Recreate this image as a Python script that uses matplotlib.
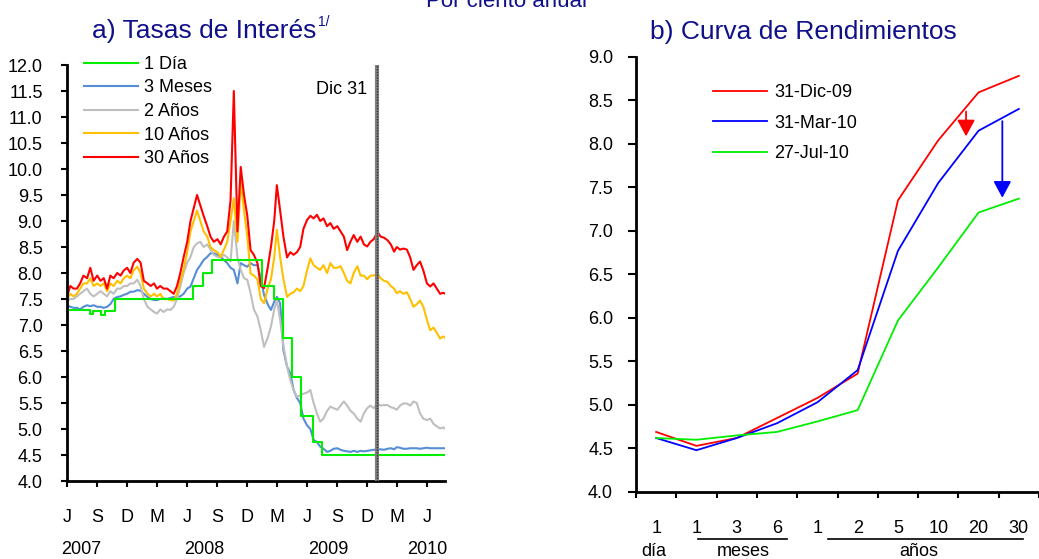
import pandas as pd
import matplotlib
matplotlib.use("Agg")
import matplotlib.pyplot as plt
from matplotlib.lines import Line2D

plt.rcParams["font.family"] = ["Liberation Sans", "DejaVu Sans"]

# ---- a) Tasas de interés: fechas cada 10 días (1, 11, 21 de cada mes) ----
meses = pd.date_range("2007-06-01", "2010-07-01", freq="MS")
fechas = [m + pd.Timedelta(days=d) for m in meses for d in (0, 10, 20)]
fechas.append(pd.Timestamp("2010-07-27"))

tasa_30a = [
    7.55, 7.75, 7.70, 7.70, 7.80, 7.95, 7.90, 8.10, 7.85, 7.95, 7.85, 7.90,
    7.70, 7.95, 7.90, 8.00, 7.95, 8.05, 8.10, 8.00, 8.20, 8.27, 8.20, 7.85,
    7.80, 7.75, 7.80, 7.70, 7.75, 7.70, 7.70, 7.65, 7.60, 7.75, 8.00, 8.30,
    8.60, 9.00, 9.25, 9.50, 9.30, 9.10, 8.90, 8.70, 8.60, 8.65, 8.55, 8.70,
    8.80, 9.40, 11.50, 8.80, 10.04, 9.50, 9.10, 8.44, 8.35, 8.19, 7.75, 7.71,
    8.10, 8.50, 9.00, 9.69, 9.20, 8.70, 8.30, 8.40, 8.35, 8.40, 8.50, 8.85,
    9.02, 9.10, 9.05, 9.12, 9.00, 9.05, 8.90, 8.96, 8.85, 8.90, 8.80, 8.70,
    8.44, 8.60, 8.73, 8.60, 8.70, 8.55, 8.51, 8.60, 8.65, 8.79, 8.70, 8.68,
    8.63, 8.55, 8.41, 8.50, 8.45, 8.47, 8.45, 8.30, 8.06, 8.15, 8.22, 8.05,
    7.80, 7.74, 7.80, 7.70, 7.60, 7.62, 7.60,
]
tasa_10a = [
    7.50, 7.60, 7.55, 7.60, 7.70, 7.80, 7.80, 7.90, 7.75, 7.80, 7.75, 7.80,
    7.65, 7.80, 7.75, 7.85, 7.80, 7.90, 7.95, 7.90, 8.05, 8.12, 8.00, 7.70,
    7.60, 7.55, 7.60, 7.55, 7.60, 7.50, 7.50, 7.48, 7.47, 7.60, 7.85, 8.06,
    8.40, 8.80, 9.00, 9.20, 9.00, 8.80, 8.70, 8.50, 8.44, 8.40, 8.31, 8.45,
    8.60, 9.00, 9.44, 8.60, 9.76, 9.20, 8.70, 7.99, 7.95, 7.88, 7.50, 7.42,
    7.70, 7.88, 8.30, 8.83, 8.30, 7.88, 7.54, 7.60, 7.63, 7.70, 7.65, 7.75,
    8.05, 8.28, 8.15, 8.10, 8.06, 8.15, 8.00, 8.19, 8.10, 8.10, 8.13, 8.00,
    7.85, 7.80, 8.00, 8.13, 7.95, 7.95, 7.88, 7.95, 7.95, 7.99, 7.90, 7.85,
    7.83, 7.75, 7.70, 7.61, 7.65, 7.60, 7.63, 7.50, 7.35, 7.40, 7.47, 7.35,
    7.10, 6.90, 6.95, 6.85, 6.74, 6.78, 6.75,
]
tasa_2a = [
    7.45, 7.50, 7.50, 7.55, 7.60, 7.65, 7.70, 7.60, 7.55, 7.60, 7.65, 7.60,
    7.55, 7.65, 7.60, 7.70, 7.70, 7.75, 7.75, 7.80, 7.80, 7.87, 7.75, 7.50,
    7.35, 7.30, 7.25, 7.22, 7.30, 7.25, 7.30, 7.29, 7.35, 7.50, 7.74, 8.00,
    8.20, 8.31, 8.50, 8.57, 8.60, 8.50, 8.55, 8.45, 8.35, 8.31, 8.30, 8.35,
    8.30, 8.22, 9.00, 8.30, 8.06, 7.90, 7.87, 7.61, 7.30, 7.16, 6.90, 6.58,
    6.75, 6.97, 7.30, 7.48, 7.10, 6.60, 6.20, 5.94, 5.75, 5.62, 5.65, 5.68,
    5.70, 5.75, 5.50, 5.30, 5.14, 5.20, 5.35, 5.43, 5.40, 5.37, 5.45, 5.53,
    5.45, 5.35, 5.30, 5.20, 5.14, 5.30, 5.40, 5.45, 5.40, 5.49, 5.45, 5.46,
    5.46, 5.42, 5.40, 5.37, 5.45, 5.49, 5.49, 5.45, 5.53, 5.50, 5.30, 5.20,
    5.17, 5.20, 5.10, 5.05, 5.01, 5.03, 5.00,
]
tasa_3m = [
    7.38, 7.35, 7.33, 7.33, 7.30, 7.35, 7.38, 7.36, 7.38, 7.35, 7.35, 7.33,
    7.35, 7.40, 7.50, 7.54, 7.55, 7.58, 7.60, 7.64, 7.64, 7.67, 7.66, 7.60,
    7.54, 7.50, 7.48, 7.48, 7.50, 7.51, 7.50, 7.52, 7.54, 7.54, 7.55, 7.60,
    7.70, 7.74, 7.90, 8.06, 8.15, 8.25, 8.31, 8.38, 8.38, 8.35, 8.31, 8.25,
    8.19, 8.10, 8.06, 7.80, 8.19, 8.15, 8.12, 8.19, 8.15, 8.15, 7.90, 7.58,
    7.40, 7.29, 7.45, 7.54, 7.42, 6.52, 6.20, 6.07, 5.75, 5.60, 5.50, 5.20,
    5.07, 5.00, 4.79, 4.75, 4.66, 4.62, 4.56, 4.58, 4.62, 4.63, 4.60, 4.58,
    4.57, 4.56, 4.58, 4.56, 4.58, 4.57, 4.58, 4.59, 4.60, 4.60, 4.61, 4.60,
    4.62, 4.63, 4.61, 4.65, 4.64, 4.62, 4.62, 4.63, 4.63, 4.63, 4.62, 4.63,
    4.64, 4.63, 4.63, 4.63, 4.63, 4.63, 4.63,
]

# tasa a 1 día: escalones (fecha de cambio, nivel)
fechas_1d = pd.to_datetime([
    "2007-06-01", "2007-08-10", "2007-08-20", "2007-09-14", "2007-09-24",
    "2007-10-26", "2008-06-20", "2008-07-18", "2008-08-15", "2009-01-16",
    "2009-02-20", "2009-03-20", "2009-04-17", "2009-05-15", "2009-06-19",
    "2009-07-17", "2010-07-27",
])
tasa_1d = [7.28, 7.22, 7.27, 7.20, 7.26, 7.50, 7.75, 8.00, 8.25, 7.75,
           7.50, 6.75, 6.00, 5.25, 4.75, 4.50, 4.50]

# ---- b) Curva de rendimientos ----
plazos = ["1", "1", "3", "6", "1", "2", "5", "10", "20", "30"]
curva_dic09 = [4.69, 4.53, 4.62, 4.85, 5.08, 5.36, 7.35, 8.04, 8.59, 8.78]
curva_mar10 = [4.62, 4.48, 4.62, 4.79, 5.03, 5.40, 6.77, 7.55, 8.15, 8.40]
curva_jul10 = [4.62, 4.60, 4.65, 4.69, 4.81, 4.94, 5.97, 6.58, 7.21, 7.37]

W, H = 1039, 559
navy = "#101088"
fs = 13

fig = plt.figure(figsize=(W / 100, H / 100), dpi=100)


def fx(px):
    return px / W


def fy(py):
    return 1 - py / H


# ----- panel a -----
ax1 = fig.add_axes([fx(67), fy(481), fx(445 - 67), (481 - 65) / H])
h_3m, = ax1.plot(fechas, tasa_3m, color="#558ed5", lw=1.5)
h_2a, = ax1.plot(fechas, tasa_2a, color="#bfbfbf", lw=1.5)
h_10a, = ax1.plot(fechas, tasa_10a, color="#ffc000", lw=1.5)
h_30a, = ax1.plot(fechas, tasa_30a, color="#ff0000", lw=1.5)
h_1d, = ax1.plot(fechas_1d, tasa_1d, color="#00ee00", lw=1.5,
                 drawstyle="steps-post")

dic31 = pd.Timestamp("2009-12-31")
ax1.axvline(dic31, color="#808080", lw=3, zorder=5)
ax1.axvline(dic31, color="#303030", lw=1, ls=(0, (1, 1)), zorder=6)
ax1.text(fx(367), fy(89), "Dic 31", transform=fig.transFigure,
         ha="right", va="center", fontsize=fs)

ax1.set_xlim(pd.Timestamp("2007-06-01"), pd.Timestamp("2010-07-26"))
ax1.set_ylim(4, 12)
ax1.set_yticks([4 + 0.5 * i for i in range(17)])
ax1.set_yticklabels([f"{4 + 0.5 * i:.1f}" for i in range(17)])
xt = pd.date_range("2007-06-01", "2010-06-01", freq="3MS")
ax1.set_xticks(xt)
ax1.set_xticklabels(["J", "S", "D", "M"] * 3 + ["J"])
ax1.tick_params(axis="y", length=4.5, width=1.5, pad=13, labelsize=fs)
ax1.tick_params(axis="x", length=4.5, width=1.5, pad=16, labelsize=fs)

for yr, px in zip(["2007", "2008", "2009", "2010"], [81, 204, 328, 427]):
    fig.text(fx(px), fy(549), yr, ha="center", va="center", fontsize=fs)

ax1.legend([h_1d, h_3m, h_2a, h_10a, h_30a],
           ["1 Día", "3 Meses", "2 Años", "10 Años", "30 Años"],
           loc="upper left", bbox_to_anchor=(fx(84), fy(56)),
           bbox_transform=fig.transFigure, frameon=False, fontsize=fs,
           handlelength=3.0, handletextpad=0.35, labelspacing=0.36,
           borderpad=0, borderaxespad=0)

# ----- panel b -----
ax2 = fig.add_axes([fx(636), fy(492), fx(W - 636), (492 - 56.7) / H])
x = list(range(len(plazos)))
ax2.plot(x, curva_dic09, color="#ff0000", lw=1.3, label="31-Dic-09")
ax2.plot(x, curva_mar10, color="#0000ff", lw=1.3, label="31-Mar-10")
ax2.plot(x, curva_jul10, color="#00ee00", lw=1.3, label="27-Jul-10")

ax2.annotate("", xy=(7.69, 8.085), xytext=(7.69, 8.37),
             arrowprops=dict(arrowstyle="-|>,head_length=0.5,head_width=0.27",
                             mutation_scale=20, color="#ff0000", lw=1.3,
                             shrinkA=0, shrinkB=0))
ax2.annotate("", xy=(8.59, 7.38), xytext=(8.59, 8.26),
             arrowprops=dict(arrowstyle="-|>,head_length=0.5,head_width=0.27",
                             mutation_scale=20, color="#0000ff", lw=1.3,
                             shrinkA=0, shrinkB=0))

ax2.set_xlim(-0.5, -0.5 + (W - 636) / 41.5)
ax2.set_ylim(4, 9)
ax2.set_yticks([4 + 0.5 * i for i in range(11)])
ax2.set_yticklabels([f"{4 + 0.5 * i:.1f}" for i in range(11)])
ax2.set_xticks(x)
ax2.set_xticklabels(plazos)
ax2.set_xticks([i - 0.5 for i in range(len(plazos) + 1)], minor=True)
ax2.tick_params(axis="x", which="major", length=0, pad=20, labelsize=fs)
ax2.tick_params(axis="x", which="minor", length=4.5, width=1.5)
ax2.tick_params(axis="y", length=5.5, width=1.5, pad=11, labelsize=fs)

ax2.legend(loc="upper left", bbox_to_anchor=(fx(713), fy(84)),
           bbox_transform=fig.transFigure, frameon=False, fontsize=fs,
           handlelength=3.0, handletextpad=0.4, labelspacing=0.76,
           borderpad=0, borderaxespad=0)

for px0, px1 in [(698, 787), (828, 1023)]:
    fig.add_artist(Line2D([fx(px0), fx(px1)], [fy(539), fy(539)],
                          color="black", lw=1.2, transform=fig.transFigure))
for txt, px in [("día", 654), ("meses", 743), ("años", 919)]:
    fig.text(fx(px), fy(552), txt, ha="center", va="center", fontsize=fs)

for ax in (ax1, ax2):
    for s in ("top", "right"):
        ax.spines[s].set_visible(False)
    for s in ("left", "bottom"):
        ax.spines[s].set_linewidth(2)

# títulos
fig.text(fx(507), fy(7), "Por ciento anual", ha="center", va="baseline",
         fontsize=16, color=navy)
fig.text(fx(92), fy(38), "a) Tasas de Interés", ha="left", va="baseline",
         fontsize=19, color=navy)
fig.text(fx(318), fy(15), "1/", ha="left", va="top", fontsize=10, color=navy)
fig.text(fx(650), fy(39), "b) Curva de Rendimientos", ha="left",
         va="baseline", fontsize=19, color=navy)

fig.savefig("out.png", dpi=100)
